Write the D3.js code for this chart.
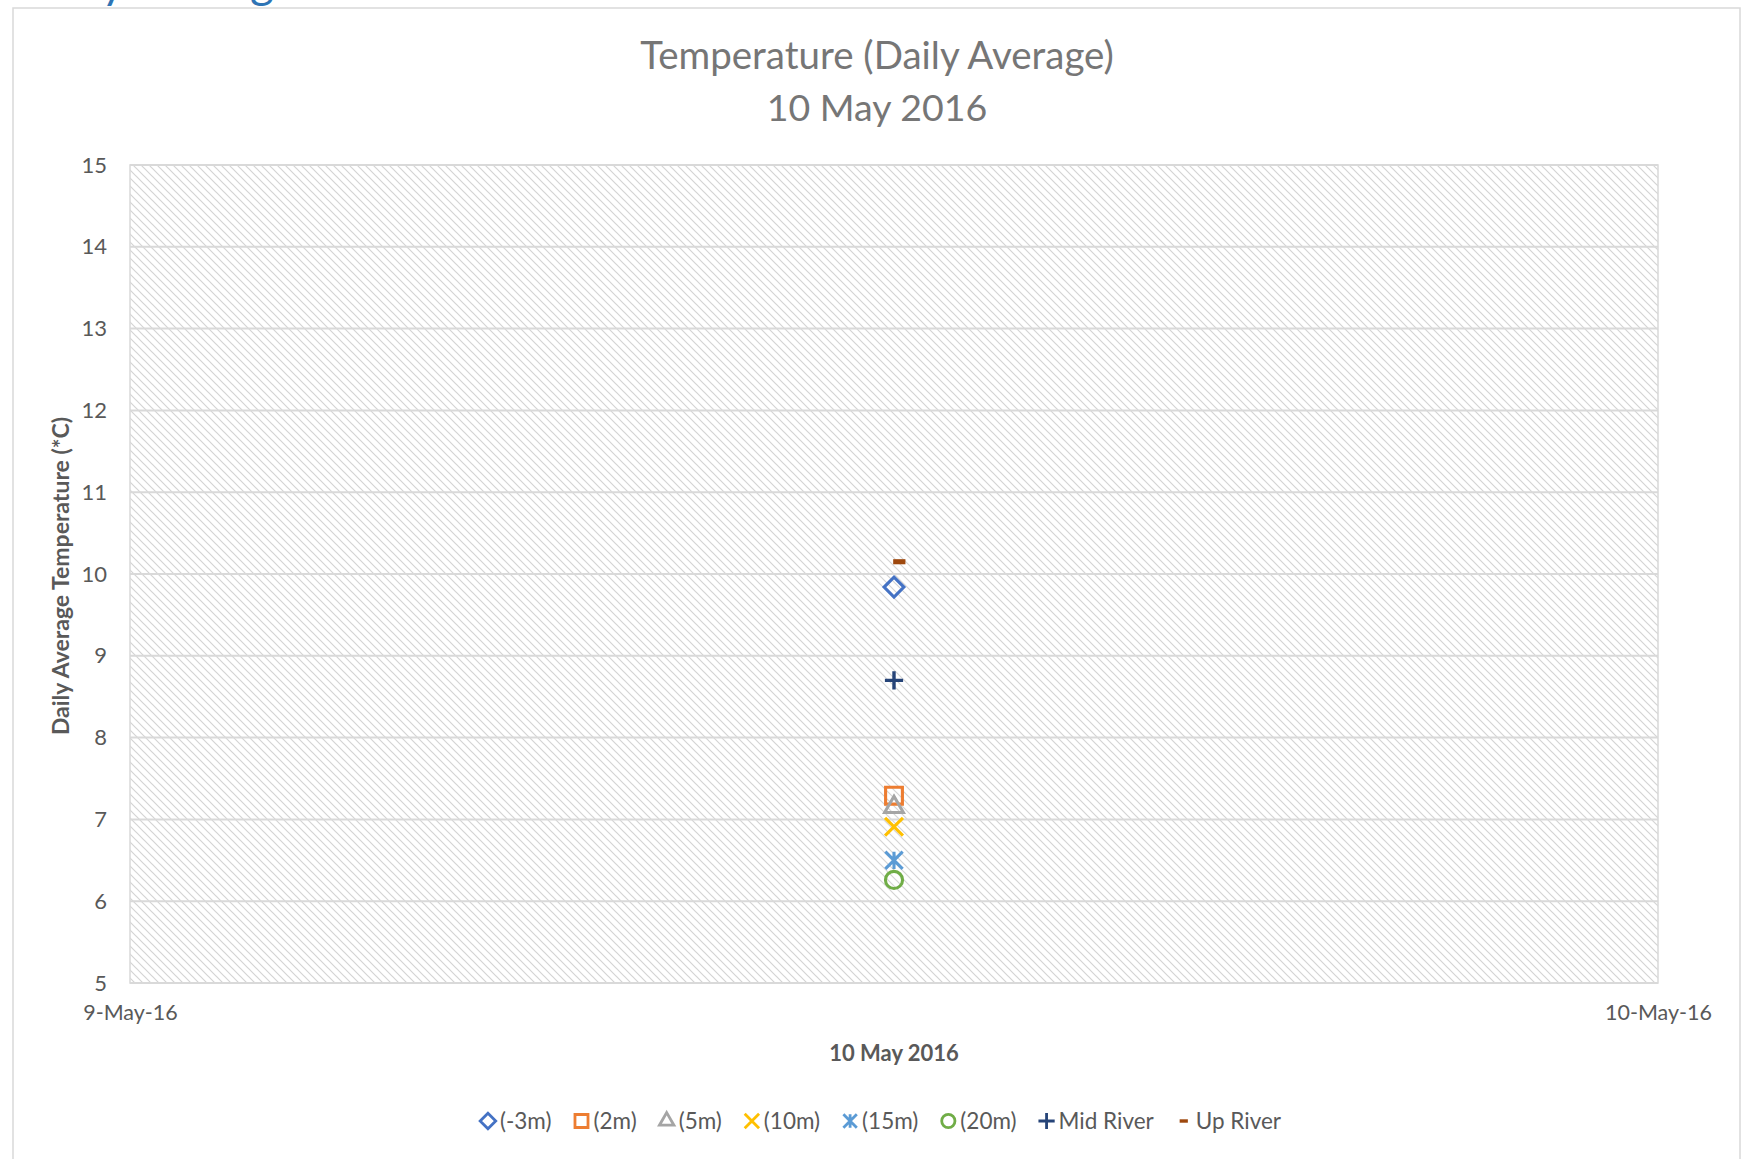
<!DOCTYPE html>
<html>
<head>
<meta charset="utf-8">
<script src="https://cdn.jsdelivr.net/npm/d3@7"></script>
<style>
  body { margin: 0; background: #fff; }
  svg { display: block; font-family: Lato, "Open Sans", sans-serif; }
</style>
</head>
<body>
<div class="chart"></div>
<script>
// series
var series = ['(-3m)', '(2m)', '(5m)', '(10m)', '(15m)', '(20m)', 'Mid River', 'Up River'];
var times = ['2016-05-09T12:00', '2016-05-09T12:00', '2016-05-09T12:00', '2016-05-09T12:00',
             '2016-05-09T12:00', '2016-05-09T12:00', '2016-05-09T12:00', '2016-05-09T12:05'];
var temps = [9.84, 7.29, 7.15, 6.91, 6.50, 6.26, 8.70, 10.15];
var colors = ['#4472C4', '#ED7D31', '#A5A5A5', '#FFC000', '#5B9BD5', '#70AD47', '#264478', '#9E480E'];
var yTicks = [5, 6, 7, 8, 9, 10, 11, 12, 13, 14, 15];
var xTickLabels = ['9-May-16', '10-May-16'];
var xDomain = ['2016-05-09T00:00', '2016-05-10T00:00'];

var W = 1743, H = 1159;
var margin = { left: 130, right: 1658, top: 165, bottom: 983 };
var parse = d3.timeParse('%Y-%m-%dT%H:%M');

var svg = d3.select('.chart')
  .append('svg')
    .attr('width', W)
    .attr('height', H);

// hatch fill for the plot area
var pat = svg.append('defs').append('pattern')
  .attr('id', 'hatch')
  .attr('patternUnits', 'userSpaceOnUse')
  .attr('width', 8).attr('height', 8);
pat.append('path')
  .attr('d', 'M0,0L8,8M-4,4L4,12M4,-4L12,4')
  .attr('stroke', '#d4d4d4')
  .attr('stroke-width', 1.2);

// cut off heading from the page above the chart
svg.append('text')
  .attr('x', 22).attr('y', -2)
  .attr('font-size', 46)
  .attr('fill', '#2E74B5')
  .text('Daily Average');

// chart frame
svg.append('rect')
  .attr('x', 13).attr('y', 8)
  .attr('width', 1727).attr('height', 1200)
  .attr('fill', 'none')
  .attr('stroke', '#d9d9d9')
  .attr('stroke-width', 1.5);

var x = d3.scaleTime()
  .domain(xDomain.map(parse))
  .range([margin.left, margin.right]);
var y = d3.scaleLinear()
  .domain([5, 15])
  .range([margin.bottom, margin.top]);

svg.append('rect')
  .attr('x', margin.left).attr('y', margin.top)
  .attr('width', margin.right - margin.left)
  .attr('height', margin.bottom - margin.top)
  .attr('fill', 'url(#hatch)');

// gridlines
svg.append('g')
  .selectAll('line')
  .data(yTicks)
  .enter()
    .append('line')
    .attr('x1', margin.left).attr('x2', margin.right)
    .attr('y1', d => y(d)).attr('y2', d => y(d))
    .attr('stroke', '#d9d9d9')
    .attr('stroke-width', 2);

svg.append('rect')
  .attr('x', margin.left).attr('y', margin.top)
  .attr('width', margin.right - margin.left)
  .attr('height', margin.bottom - margin.top)
  .attr('fill', 'none')
  .attr('stroke', '#d9d9d9')
  .attr('stroke-width', 1.5);

// y axis
var yAxis = svg.append('g')
  .attr('transform', 'translate(' + margin.left + ',0)')
  .call(d3.axisLeft(y).tickValues(yTicks).tickSize(0).tickPadding(23));
yAxis.select('.domain').remove();
yAxis.selectAll('text')
  .attr('font-family', 'Lato')
  .attr('font-size', 22)
  .attr('fill', '#595959');

// x axis
var xAxis = svg.append('g')
  .attr('transform', 'translate(0,' + margin.bottom + ')')
  .call(d3.axisBottom(x).tickValues(xDomain.map(parse))
    .tickFormat((d, i) => xTickLabels[i]).tickSize(0).tickPadding(22));
xAxis.select('.domain').remove();
xAxis.selectAll('text')
  .attr('font-family', 'Lato')
  .attr('font-size', 21.5)
  .attr('fill', '#595959');

// axis titles
svg.append('text')
  .attr('transform', 'translate(69,576) rotate(-90)')
  .attr('text-anchor', 'middle')
  .attr('font-size', 23)
  .attr('font-weight', 'bold')
  .attr('fill', '#595959')
  .text('Daily Average Temperature (*C)');

svg.append('text')
  .attr('x', 894).attr('y', 1061)
  .attr('text-anchor', 'middle')
  .attr('font-size', 22)
  .attr('font-weight', 'bold')
  .attr('fill', '#595959')
  .text('10 May 2016');

// chart title
svg.append('text')
  .attr('x', 877).attr('y', 69)
  .attr('text-anchor', 'middle')
  .attr('font-size', 38.5)
  .attr('fill', '#767676')
  .text('Temperature (Daily Average)');
svg.append('text')
  .attr('x', 877).attr('y', 121)
  .attr('text-anchor', 'middle')
  .attr('font-size', 37.5)
  .attr('fill', '#767676')
  .text('10 May 2016');

// marker shapes, Excel style
var star = {
  draw: function (ctx, size) {
    var r = Math.sqrt(size) / 2;
    ctx.moveTo(0, -r); ctx.lineTo(0, r);
    ctx.moveTo(-r, -r); ctx.lineTo(r, r);
    ctx.moveTo(r, -r); ctx.lineTo(-r, r);
  }
};
var dash = {
  draw: function (ctx, size) {
    var r = Math.sqrt(size) / 2;
    ctx.rect(-r, -r / 2.4, 2 * r, r / 1.2);
  }
};
var shapes = [d3.symbolDiamond2, d3.symbolSquare2, d3.symbolTriangle2, d3.symbolTimes,
              star, d3.symbolCircle, d3.symbolPlus, dash];
var sizes = [250, 360, 250, 210, 300, 230, 110, 150];
var legendScale = [0.62, 0.6, 0.6, 0.65, 0.6, 0.6, 0.8, 0.45];

function drawMarker(g, i, k, sw) {
  var p = g.append('path')
    .attr('d', d3.symbol().type(shapes[i]).size(sizes[i] * k)());
  if (i === 7) {
    p.attr('fill', colors[i]);
  } else {
    p.attr('fill', 'none')
      .attr('stroke', colors[i])
      .attr('stroke-width', sw);
  }
}

var pts = svg.append('g')
  .selectAll('g')
  .data(series)
  .enter()
    .append('g')
    .attr('transform', (d, i) => 'translate(' + x(parse(times[i])) + ',' + y(temps[i]) + ')');
pts.each(function (d, i) { drawMarker(d3.select(this), i, 1, i === 6 ? 3.4 : 3.1); });

// legend
var legend = svg.append('g');
var items = legend.selectAll('g')
  .data(series)
  .enter()
    .append('g');
items.append('text')
  .attr('x', 12).attr('y', 8)
  .attr('font-size', 22.5)
  .attr('fill', '#595959')
  .text(d => d);
var lx = 0;
items.each(function (d, i) {
  var g = d3.select(this);
  drawMarker(g, i, legendScale[i], 2.8);
  g.attr('transform', 'translate(' + lx + ',1121)');
  lx += 12 + g.select('text').node().getComputedTextLength() + 30;
});
var legendW = lx - 30 + 7;
legend.attr('transform', 'translate(' + (881 - legendW / 2 + 7) + ',0)');
</script>
</body>
</html>
